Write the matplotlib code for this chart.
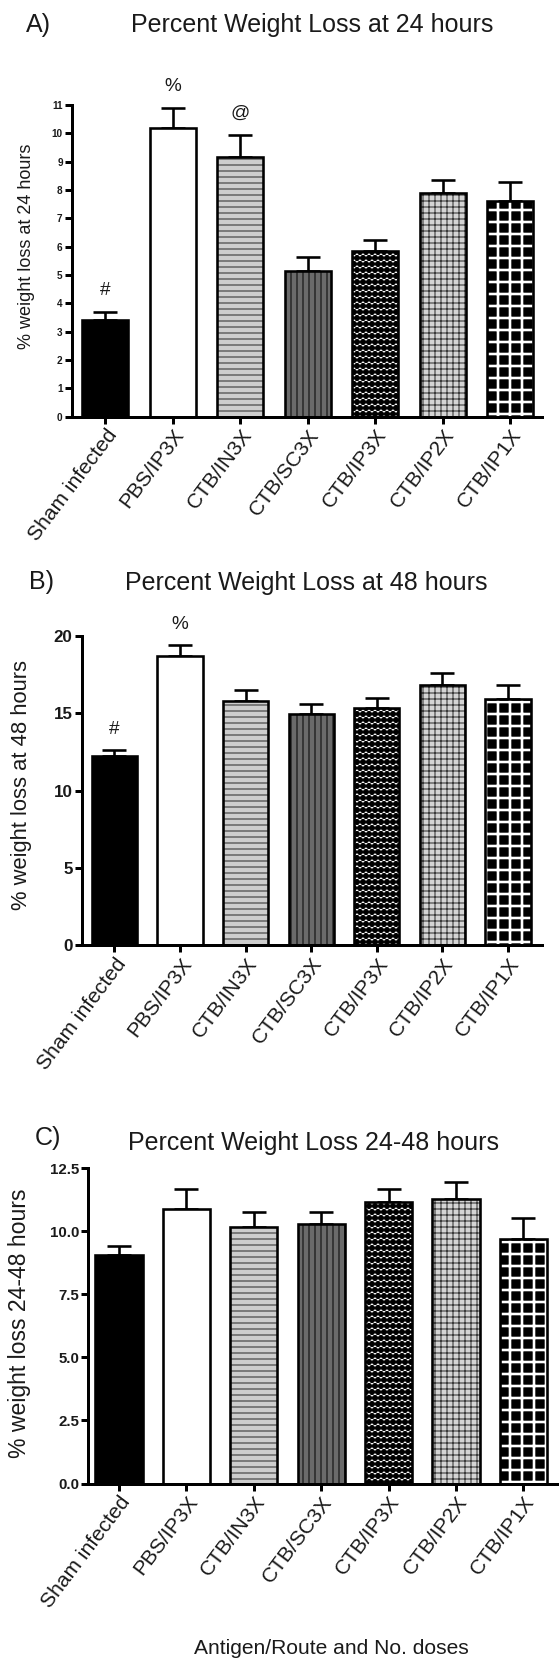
import numpy as np
import matplotlib
matplotlib.use('Agg')
import matplotlib.pyplot as plt
import matplotlib.hatch as mhatch

groups = ['Sham infected', 'PBS/IP3X', 'CTB/IN3X', 'CTB/SC3X',
          'CTB/IP3X', 'CTB/IP2X', 'CTB/IP1X']

# A) weight loss at 24 h (mean, SEM)
loss24 = [3.40, 10.20, 9.17, 5.15, 5.83, 7.89, 7.60]
sem24 = [0.30, 0.70, 0.78, 0.48, 0.41, 0.47, 0.68]
mark24 = ['#', '%', '@', '', '', '', '']

# B) weight loss at 48 h
loss48 = [12.24, 18.70, 15.79, 14.93, 15.36, 16.80, 15.90]
sem48 = [0.38, 0.71, 0.71, 0.67, 0.61, 0.78, 0.93]
mark48 = ['#', '%', '', '', '', '', '']

# C) weight loss between 24 and 48 h
loss2448 = [9.08, 10.87, 10.17, 10.31, 11.17, 11.30, 9.71]
sem2448 = [0.33, 0.81, 0.60, 0.46, 0.51, 0.64, 0.80]

# bar looks: face colour, hatch, hatch colour, hatch width
faces = ['black', 'white', '#cdcdcd', '#6a6a6a', 'white', '#d4d4d4', 'black']
hatches = ['', '', '--', '||', '..', '++', '+']
hcolors = ['black', 'black', '#454545', '#151515', 'black', '#3a3a3a', 'white']
hwidths = [1, 1, 1.2, 1.2, 1, 1.1, 2.6]

mhatch.SmallFilledCircles.size = 0.42  # bigger dots -> checker look

plt.rcParams['font.family'] = ['Liberation Sans', 'DejaVu Sans']
plt.rcParams['hatch.linewidth'] = 1.2
TXT = '#1a1a1a'

W, H = 559, 1661
DPI = 72
fig = plt.figure(figsize=(W / DPI, H / DPI), dpi=DPI)


def px_axes(left, right, top, bottom):
    return fig.add_axes([left / W, 1 - bottom / H, (right - left) / W, (bottom - top) / H])


def draw_panel(ax, vals, errs, marks, ymax, ticks, fmt, tick_fs, xlim, width):
    x = np.arange(len(groups))
    for i in range(len(groups)):
        b = ax.bar(x[i], vals[i], width, color=faces[i], hatch=hatches[i] or None,
                   edgecolor=hcolors[i], linewidth=0, zorder=2)
        for p in b:
            if hasattr(p, 'set_hatch_linewidth'):
                p.set_hatch_linewidth(hwidths[i])
        ax.bar(x[i], vals[i], width, fill=False, edgecolor='black',
               linewidth=2.6, zorder=3)
    ax.errorbar(x, vals, yerr=[np.zeros(len(vals)), errs], fmt='none',
                ecolor='black', elinewidth=2.6, capsize=12, capthick=2.6, zorder=1)
    for i, m in enumerate(marks):
        if m:
            ax.annotate(m, (x[i], vals[i] + errs[i]), xytext=(0, 21),
                        textcoords='offset points', ha='center', va='center',
                        fontsize=19, color=TXT, annotation_clip=False)
    ax.set_xlim(*xlim)
    ax.set_ylim(0, ymax)
    ax.set_yticks(ticks)
    ax.set_yticklabels([fmt.format(t) for t in ticks], fontsize=tick_fs,
                       fontweight='bold', color=TXT)
    ax.set_xticks(x)
    ax.set_xticklabels(groups, rotation=53, ha='right', va='top',
                       rotation_mode='anchor', fontsize=21, color=TXT)
    for s in ['top', 'right']:
        ax.spines[s].set_visible(False)
    for s in ['left', 'bottom']:
        ax.spines[s].set_linewidth(3)
    ax.tick_params(width=3, length=7, direction='out', pad=2)
    ax.set_facecolor('none')


axA = px_axes(71.7, 542, 105, 416.7)
draw_panel(axA, loss24, sem24, mark24, 11, range(0, 12), '{}', 10,
           (-0.5, 6.47), 0.68)

axB = px_axes(81.7, 542, 636, 945.3)
draw_panel(axB, loss48, sem48, mark48, 20, range(0, 21, 5), '{}', 17,
           (-0.5, 6.52), 0.69)

axC = px_axes(88.3, 557, 1168.3, 1483.5)
draw_panel(axC, loss2448, sem2448, [''] * 7, 12.5, np.arange(0, 12.6, 2.5),
           '{:.1f}', 15, (-0.455, 6.5), 0.70)


def ftext(x, y, s, **kw):
    fig.text(x / W, 1 - y / H, s, color=TXT, **kw)


ftext(312, 25, 'Percent Weight Loss at 24 hours', fontsize=25, ha='center', va='center')
ftext(306, 583, 'Percent Weight Loss at 48 hours', fontsize=25, ha='center', va='center')
ftext(313, 1143, 'Percent Weight Loss 24-48 hours', fontsize=25, ha='center', va='center')
ftext(26, 25, 'A)', fontsize=25, ha='left', va='center')
ftext(29, 582, 'B)', fontsize=25, ha='left', va='center')
ftext(35, 1138, 'C)', fontsize=25, ha='left', va='center')

ftext(27, 246, '% weight loss at 24 hours', fontsize=18, rotation=90, ha='center', va='center')
ftext(22, 785, '% weight loss at 48 hours', fontsize=22, rotation=90, ha='center', va='center')
ftext(20, 1323, '% weight loss 24-48 hours', fontsize=23, rotation=90, ha='center', va='center')
ftext(331, 1648, 'Antigen/Route and No. doses', fontsize=21, ha='center', va='center')

fig.savefig('out.png', dpi=DPI, facecolor='white')
